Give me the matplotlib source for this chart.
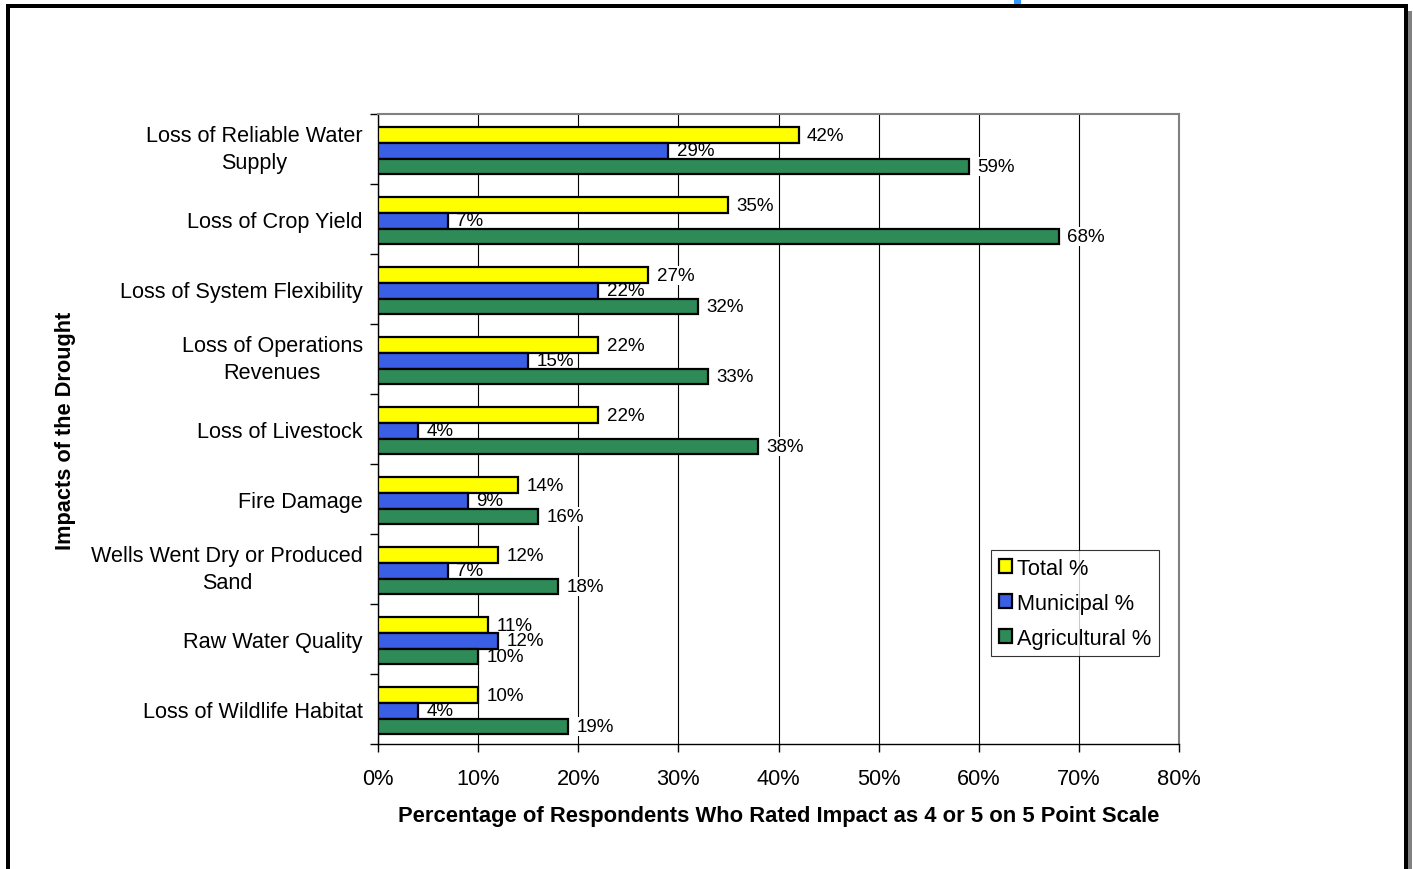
import matplotlib
matplotlib.use("Agg")
import matplotlib.pyplot as plt
from matplotlib.patches import Rectangle
from matplotlib.ticker import FixedLocator, FuncFormatter

plt.rcParams['font.family'] = ['Liberation Sans', 'DejaVu Sans']

categories = ["Loss of Reliable Water\nSupply", "Loss of Crop Yield",
              "Loss of System Flexibility", "Loss of Operations\nRevenues",
              "Loss of Livestock", "Fire Damage",
              "Wells Went Dry or Produced\nSand", "Raw Water Quality",
              "Loss of Wildlife Habitat"]
total = [42, 35, 27, 22, 22, 14, 12, 11, 10]
municipal = [29, 7, 22, 15, 4, 9, 7, 12, 4]
agricultural = [59, 68, 32, 33, 38, 16, 18, 10, 19]
series_names = ["Total %", "Municipal %", "Agricultural %"]
colors = ["#FFFF00", "#3A5FE5", "#2E8B57"]
xticks = [0, 10, 20, 30, 40, 50, 60, 70, 80]

W, H = 1413, 870
fig = plt.figure(figsize=(W/100, H/100), dpi=100)
ax = fig.add_axes([378/W, 1-745/H, (1179-378)/W, (745-115)/H])

n = len(categories)
ypos = list(range(n))
bh = 0.222
shift = 0.025
offsets = [-bh + shift, shift, bh + shift]
for vals, off, col, name in zip([total, municipal, agricultural], offsets, colors, series_names):
    ax.barh([y + off for y in ypos], [v/100 for v in vals], height=bh,
            color=col, edgecolor='black', linewidth=1.6, label=name, zorder=3)
    for y, v in zip(ypos, vals):
        ax.annotate(f"{v}%", xy=(v/100, y + off), xytext=(6, 0), textcoords='offset points',
                    ha='left', va='center', fontsize=13.5, zorder=2.5,
                    bbox=dict(boxstyle='square,pad=0.05', fc='white', ec='none'))

ax.set_xlim(0, 0.8)
ax.set_ylim(n - 0.5, -0.5)

ax.set_xticks([t/100 for t in xticks])
ax.xaxis.set_major_formatter(FuncFormatter(lambda x, p: f"{x*100:.0f}%"))
ax.tick_params(axis='x', direction='out', length=6, width=1, labelsize=15.7, pad=11, colors='black')
ax.grid(axis='x', color='black', linewidth=0.8, zorder=0)
ax.set_axisbelow(True)

ax.set_yticks(ypos)
ax.set_yticklabels(categories, fontsize=15.6, linespacing=1.4, multialignment='center')
for t in ax.get_yticklabels():
    if "\n" in t.get_text():
        t.set_va('center')
ax.tick_params(axis='y', which='major', length=0, pad=11)
ax.yaxis.set_minor_locator(FixedLocator([i - 0.5 for i in range(n + 1)]))
ax.tick_params(axis='y', which='minor', direction='out', length=6, width=1)

ax.spines['left'].set_color('black')
ax.spines['bottom'].set_color('black')
ax.spines['left'].set_linewidth(1)
ax.spines['bottom'].set_linewidth(1)
ax.spines['top'].set_color('#808080')
ax.spines['right'].set_color('#808080')
ax.spines['top'].set_linewidth(1.5)
ax.spines['right'].set_linewidth(1.5)

ax.set_xlabel("Percentage of Respondents Who Rated Impact as 4 or 5 on 5 Point Scale",
              fontsize=15.8, fontweight='bold', labelpad=11.5)
fig.text(65/W, 1-431/H, "Impacts of the Drought", rotation=90, ha='center', va='center',
         fontsize=15.7, fontweight='bold')

leg = ax.legend(loc='upper left', bbox_to_anchor=((991-378)/(1179-378), 1-(551-115)/(745-115)),
                fontsize=15.7, frameon=True, fancybox=False, edgecolor='black',
                handlelength=0.6, handleheight=0.6, handletextpad=0.25, borderpad=0.35,
                labelspacing=0.64, borderaxespad=0)
leg.get_frame().set_linewidth(0.8)

# outer frame
def frect(x0, y0, x1, y1, color):
    fig.patches.append(Rectangle((x0/W, 1-y1/H), (x1-x0)/W, (y1-y0)/H,
                                 transform=fig.transFigure, color=color, lw=0, zorder=10))

frect(6, 5, 1408, 9, 'black')
frect(6, 5, 10, 870, 'black')
frect(1404, 5, 1408, 870, 'black')
frect(1408, 12, 1412, 870, '#808080')
frect(1014, 0, 1021, 5, '#3399FF')

fig.savefig("out.png", dpi=100)
